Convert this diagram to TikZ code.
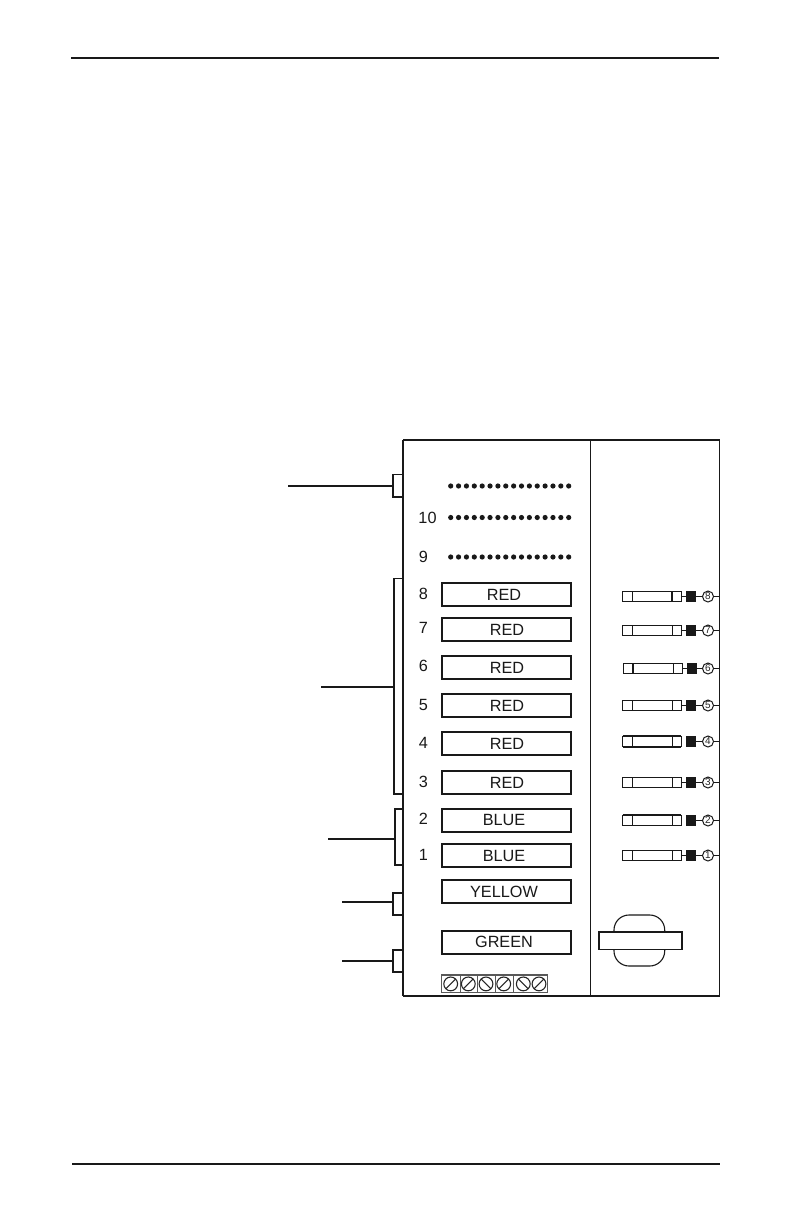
\documentclass[tikz,border=0pt]{standalone}
\usepackage{fontspec}
\usetikzlibrary{calc}
\setmainfont{Liberation Sans}
\begin{document}
\begin{tikzpicture}[x=1bp,y=-1bp,
  every node/.style={inner sep=0pt,outer sep=0pt},
  wire/.style={line width=1.6bp,color=black!90},
  thinwire/.style={line width=1.3bp,color=black!90},
  colorbox/.style={draw=black!90,line width=1.8bp,fill=white,minimum width=129bp,minimum height=23bp},
  number/.style={font=\fontsize{16.3}{17}\selectfont,text=black!90},
  bracketbox/.style={draw=black!90,line width=1.5bp,minimum width=10bp},
  dotmark/.style={circle,fill=black!90,minimum size=5.2bp},
  fusebody/.style={draw=black!90,line width=.9bp,fill=white,minimum width=58.5bp,minimum height=10.4bp},
  blacksq/.style={fill=black!90,minimum width=10.5bp,minimum height=11.4bp},
  pin/.style={circle,draw=black!90,line width=1bp,fill=white,minimum size=11bp,font=\fontsize{10}{10}\selectfont,text=black!85},
  screw/.style={circle,draw=black!85,line width=1.1bp,minimum size=13.8bp}]
\useasboundingbox (0,0) rectangle (792,1224);
% page rules
\coordinate (topL) at (71,58); \coordinate (topR) at (719,58);
\coordinate (botL) at (72,1164); \coordinate (botR) at (720,1164);
\draw[line width=2bp,black!90] (topL) -- (topR);
\draw[line width=2bp,black!90] (botL) -- (botR);
% brackets (behind frame)
\node[bracketbox,minimum height=22.5bp] (bA) at (398,485.75) {};
\node[bracketbox,minimum height=215.5bp,minimum width=9bp] (bB) at (398.5,686.25) {};
\node[bracketbox,minimum height=56bp,minimum width=8bp] (bC) at (399,837) {};
\node[bracketbox,minimum height=22bp] (bD) at (398,904) {};
\node[bracketbox,minimum height=22bp] (bE) at (398,961) {};
% frame
\coordinate (fTL) at (403,440); \coordinate (fTR) at (719.5,440);
\coordinate (fBL) at (403,996); \coordinate (fBR) at (719.5,996);
\fill[white] (fTL) rectangle (fBR);
\draw[line width=1.1bp,black!90] (fTL) -- (fTR) -- (fBR) -- (fBL);
\draw[line width=1.7bp,black!90] (fTL) -- (fBL);
\coordinate (dT) at (590.5,440); \coordinate (dB) at (590.5,996);
\draw[line width=1.1bp,black!90] (dT) -- (dB);
% leader lines
\coordinate (lA) at (288,486); \coordinate (lB) at (321,687);
\coordinate (lC) at (328,839); \coordinate (lD) at (342,902);
\coordinate (lE) at (342,961);
\draw[wire] (lA) -- (lA-|bA.west);
\draw[wire] (lB) -- (lB-|bB.west);
\draw[wire] (lC) -- (lC-|bC.west);
\draw[wire] (lD) -- (lD-|bD.west);
\draw[wire] (lE) -- (lE-|bE.west);
% dot rows
\foreach \y/\r in {486/a,517.5/b,557/c}
  \foreach \i in {0,...,15}
    \node[dotmark] (dot\r\i) at ({450.7+\i*7.867},\y) {};
% colour boxes
\node[colorbox] (c8) at (506.5,594.5) {}; \node[number] (t8) at (504,594.5) {RED};
\node[colorbox] (c7) at (506.5,629.5) {}; \node[number] (t7) at (507,629.5) {RED};
\node[colorbox] (c6) at (506.5,667.5) {}; \node[number] (t6) at (507,667.5) {RED};
\node[colorbox] (c5) at (506.5,705.5) {}; \node[number] (t5) at (507,705.5) {RED};
\node[colorbox] (c4) at (506.5,743.5) {}; \node[number] (t4) at (507,743.5) {RED};
\node[colorbox] (c3) at (506.5,782.5) {}; \node[number] (t3) at (507,782.5) {RED};
\node[colorbox] (c2) at (506.5,820.5) {}; \node[number] (t2) at (504,820) {BLUE};
\node[colorbox] (c1) at (506.5,855.5) {}; \node[number] (t1) at (504,855.5) {BLUE};
\node[colorbox] (cY) at (506.5,891.5) {}; \node[number] (tY) at (504,891.5) {YELLOW};
\node[colorbox] (cG) at (506.5,942.5) {}; \node[number] (tG) at (504,942) {GREEN};
% row numbers
\node[number] (n10) at (427.5,518) {10};
\node[number] (n9) at (423.5,557) {9};
\node[number] (n8) at (423.5,594) {8};
\node[number] (n7) at (423.5,628) {7};
\node[number] (n6) at (423.5,666) {6};
\node[number] (n5) at (423.5,705) {5};
\node[number] (n4) at (423.5,743) {4};
\node[number] (n3) at (423.5,782) {3};
\node[number] (n2) at (423.5,819) {2};
\node[number] (n1) at (423.5,855) {1};
% fuses
\foreach \n/\y/\s in {8/596.5/0,7/630.5/0,6/668.5/1,5/705.5/0,4/741.5/0,3/782.5/0,2/820.5/0,1/855.5/0}{
  \node[fusebody] (f\n) at ({651.75+\s},\y) {};
  \draw[line width=.9bp,black!90] ($(f\n.west)+(9.5,-5.2)$) -- ($(f\n.west)+(9.5,5.2)$);
  \draw[line width=.9bp,black!90] ($(f\n.east)+(-8.8,-5.2)$) -- ($(f\n.east)+(-8.8,5.2)$);
  \node[blacksq] (s\n) at ({691+\s},\y) {};
  \node[pin] (p\n) at (708,\y) {\n};
  \coordinate (e\n) at (719.5,\y);
  \draw[thinwire] (s\n) -- (p\n);
  \draw[thinwire] (p\n) -- (e\n);
}
\foreach \n in {8,7,6,5,3,1} \draw[thinwire] (f\n.east) -- (s\n.west);
% emphasised fuse edges
\draw[line width=1.7bp,black!90] (f8.north east)++(-8.8,0) -- ++(0,10.4);
\draw[line width=1.7bp,black!90] (f6.north west) -- ++(0,10.4);
\draw[line width=1.7bp,black!90] (f6.north west)++(9.5,0) -- ++(0,10.4);
\draw[line width=1.7bp,black!90] (f4.north west) -- (f4.north east);
\draw[line width=1.7bp,black!90] (f4.south west) -- (f4.south east);
\draw[line width=1.7bp,black!90] (f2.north west) -- (f2.north east);
% handle
\draw[line width=1.1bp,black!90,rounded corners=15bp] (614,915) rectangle (664.7,966);
\node[draw=black!90,line width=1.6bp,fill=white,minimum width=83bp,minimum height=17.6bp] (bar) at (640.2,940.5) {};
% terminal block
\node[draw=black!65,line width=1.1bp,minimum width=105.5bp,minimum height=17.8bp] (tb) at (494.3,983.9) {};
\foreach \x in {460,477.7,495.7,513}
  \draw[line width=.9bp,black!65] (\x,975) -- (\x,992.8);
\foreach \i/\x/\d in {1/450.7/1,2/468.3/1,3/486/-1,4/503.7/1,5/523.3/-1,6/539/1}{
  \node[screw] (sc\i) at (\x,983.9) {};
  \draw[line width=1.1bp,black!85] ($(sc\i.center)+({-4.8*\d},4.8)$) -- ($(sc\i.center)+({4.8*\d},-4.8)$);
}
\end{tikzpicture}
\end{document}
